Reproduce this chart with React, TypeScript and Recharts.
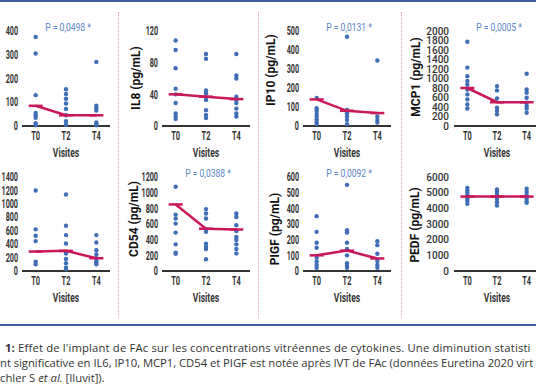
import React from 'react';
import { ScatterChart, Scatter, XAxis, YAxis } from 'recharts';

// visites
const VISITS = ['T0', 'T2', 'T4'];

// IL6 (titre coupé à gauche)
const IL6_T0 = [375, 305, 130, 55, 45, 35, 12, 3];
const IL6_T2 = [155, 135, 115, 95, 72, 45, 20, 5];
const IL6_T4 = [270, 85, 75, 65, 15, 8, 3];
const IL6_MED = [85, 45, 45];

// IL8
const IL8_T0 = [108, 96, 73, 47, 40, 29, 16, 12, 9];
const IL8_T2 = [91, 85, 45, 41, 36, 33, 20, 14, 10];
const IL8_T4 = [91, 64, 60, 37, 33, 29, 22, 16, 12];
const IL8_MED = [40, 37, 34];

// IP10
const IP10_T0 = [147, 94, 80, 64, 50, 35, 21, 10];
const IP10_T2 = [470, 85, 67, 50, 32, 10];
const IP10_T4 = [345, 50, 32, 18];
const IP10_MED = [140, 80, 68];

// MCP1
const MCP1_T0 = [1775, 1230, 1050, 950, 870, 770, 665, 560, 455, 370];
const MCP1_T2 = [840, 750, 580, 385, 315, 245];
const MCP1_T4 = [1100, 770, 700, 595, 490, 420, 370, 280];
const MCP1_MED = [800, 500, 500];

// 2e ligne, 1er panneau (titre coupé)
const VEGF_T0 = [1200, 620, 525, 445, 140, 100];
const VEGF_T2 = [1140, 675, 535, 410, 260, 180, 115, 50, 30];
const VEGF_T4 = [535, 425, 310, 245, 190, 150, 130, 100];
const VEGF_MED = [290, 300, 190];

// CD54
const CD54_T0 = [1075, 720, 670, 605, 490, 340, 235, 220];
const CD54_T2 = [790, 735, 670, 535, 500, 350, 310, 280, 150];
const CD54_T4 = [735, 690, 585, 510, 435, 395, 340, 280, 225];
const CD54_MED = [850, 540, 530];

// PIGF
const PIGF_T0 = [350, 250, 180, 148, 85, 60, 38, 20];
const PIGF_T2 = [550, 260, 245, 180, 140, 100, 50, 34, 20];
const PIGF_T4 = [190, 165, 110, 64, 38, 20];
const PIGF_MED = [100, 130, 80];

// PEDF
const PEDF_T0 = [5300, 5140, 4990, 4860, 4650, 4500, 4290];
const PEDF_T2 = [5200, 5080, 4930, 4780, 4600, 4390, 4180];
const PEDF_T4 = [5250, 5040, 4860, 4650, 4440, 4350];
const PEDF_MED = [4750, 4750, 4750];

const BLUE = '#3f6db6';
const RED = '#c8195b';
const PBLUE = '#5a86c8';
const FONT = "Roboto,'Noto Sans',sans-serif";

const COL_LEFT = [22, 162, 303, 454];
const COL_W = [88, 88, 88, 86];
const ROW_TOP = [31, 177];
const ROW_H = [95, 94];
const LABEL_X = [[0, 136, 271, 416], [0, 134, 275, 415]];
const LABEL_Y = [[78, 78, 70, 77], [224, 219, 229, 225]];
const YW = 32;
const MT = 10;

const panels = [
  { label: '', t0: IL6_T0, t2: IL6_T2, t4: IL6_T4, med: IL6_MED, max: 400, step: 100, p: 'P = 0,0498 *', row: 0, col: 0, wide: false },
  { label: 'IL8 (pg/mL)', t0: IL8_T0, t2: IL8_T2, t4: IL8_T4, med: IL8_MED, max: 120, step: 40, p: '', row: 0, col: 1, wide: false },
  { label: 'IP10 (pg/mL)', t0: IP10_T0, t2: IP10_T2, t4: IP10_T4, med: IP10_MED, max: 500, step: 100, p: 'P = 0,0131 *', row: 0, col: 2, wide: false },
  { label: 'MCP1 (pg/mL)', t0: MCP1_T0, t2: MCP1_T2, t4: MCP1_T4, med: MCP1_MED, max: 2000, step: 200, p: 'P = 0,0005 *', row: 0, col: 3, wide: true },
  { label: '', t0: VEGF_T0, t2: VEGF_T2, t4: VEGF_T4, med: VEGF_MED, max: 1400, step: 200, p: '', row: 1, col: 0, wide: false },
  { label: 'CD54 (pg/mL)', t0: CD54_T0, t2: CD54_T2, t4: CD54_T4, med: CD54_MED, max: 1200, step: 200, p: 'P = 0,0388 *', row: 1, col: 1, wide: false },
  { label: 'PIGF (pg/mL)', t0: PIGF_T0, t2: PIGF_T2, t4: PIGF_T4, med: PIGF_MED, max: 600, step: 100, p: 'P = 0,0092 *', row: 1, col: 2, wide: false },
  { label: 'PEDF (pg/mL)', t0: PEDF_T0, t2: PEDF_T2, t4: PEDF_T4, med: PEDF_MED, max: 6000, step: 1000, p: '', row: 1, col: 3, wide: true },
];

const Dot = (props: any) => <circle cx={props.cx} cy={props.cy} r={2.2} fill={BLUE} />;
const Cap = (props: any) => (
  <line x1={props.cx - 7} x2={props.cx + 7} y1={props.cy} y2={props.cy} stroke={RED} strokeWidth={2.5} />
);

// police étroite type DIN : on resserre le texte horizontalement
const yTick = (wide: boolean) => (props: any) => (
  <text
    transform={`translate(${props.x},${props.y}) scale(${wide ? 1 : 0.6},1)`}
    textAnchor="end"
    dy="0.35em"
    fontSize={wide ? 10 : 12}
    fontFamily={FONT}
    fontWeight={wide ? 500 : 700}
    fill="#333"
  >
    {props.payload.value}
  </text>
);

const xTick = (props: any) => (
  <text
    transform={`translate(${props.x},${props.y}) scale(0.62,1)`}
    textAnchor="middle"
    dy="0.71em"
    fontSize={12}
    fontFamily={FONT}
    fontWeight={700}
    fill="#333"
  >
    {VISITS[props.payload.value]}
  </text>
);

function Panel({ cfg }: { cfg: any }) {
  const left = COL_LEFT[cfg.col];
  const w = COL_W[cfg.col];
  const top = ROW_TOP[cfg.row];
  const h = ROW_H[cfg.row];
  const pts = [
    ...cfg.t0.map((y: number) => ({ x: 0, y })),
    ...cfg.t2.map((y: number) => ({ x: 1, y })),
    ...cfg.t4.map((y: number) => ({ x: 2, y })),
  ];
  const meds = cfg.med.map((y: number, i: number) => ({ x: i, y }));
  const ticks: number[] = [];
  for (let v = 0; v <= cfg.max; v += cfg.step) ticks.push(v);
  const mid = left + w / 2;

  return (
    <>
      <div style={{ position: 'absolute', left: left - YW, top: top - MT }}>
        <ScatterChart width={w + YW} height={h + MT + 30} margin={{ top: MT, right: 0, bottom: 0, left: 0 }}>
          <XAxis
            type="number"
            dataKey="x"
            domain={[-0.45, 2.45]}
            ticks={[0, 1, 2]}
            height={30}
            tickLine={false}
            tickSize={0}
            tickMargin={5}
            axisLine={{ stroke: '#333', strokeWidth: 2 }}
            tick={xTick}
          />
          <YAxis
            type="number"
            dataKey="y"
            domain={[0, cfg.max]}
            ticks={ticks}
            interval={0}
            width={YW}
            tickLine={false}
            tickSize={0}
            tickMargin={cfg.wide ? 5 : 4}
            axisLine={false}
            tick={yTick(cfg.wide)}
          />
          <Scatter data={pts} shape={Dot} isAnimationActive={false} />
          <Scatter data={meds} shape={Cap} line={{ stroke: RED, strokeWidth: 2.5 }} isAnimationActive={false} />
        </ScatterChart>
      </div>
      {cfg.label && (
        <div
          style={{
            position: 'absolute',
            left: LABEL_X[cfg.row][cfg.col] - 60,
            top: LABEL_Y[cfg.row][cfg.col] - 8,
            width: 120,
            height: 16,
            lineHeight: '16px',
            textAlign: 'center',
            transform: 'rotate(-90deg)',
            fontFamily: FONT,
            fontWeight: 700,
            fontSize: 12,
            color: '#111',
            whiteSpace: 'nowrap',
          }}
        >
          {cfg.label}
        </div>
      )}
      {cfg.p && (
        <div
          style={{
            position: 'absolute',
            left: mid - 40,
            top: top - 11,
            width: 84,
            textAlign: 'center',
            fontFamily: FONT,
            fontSize: 11.5,
            lineHeight: '14px',
            color: PBLUE,
            whiteSpace: 'nowrap',
            transform: 'scaleX(0.74)',
          }}
        >
          {cfg.p}
        </div>
      )}
      <div
        style={{
          position: 'absolute',
          left: mid - 30,
          top: top + h + 20,
          width: 60,
          textAlign: 'center',
          fontFamily: FONT,
          fontWeight: 700,
          fontSize: 12.5,
          lineHeight: '14px',
          color: '#333',
          transform: 'scaleX(0.68)',
        }}
      >
        Visites
      </div>
    </>
  );
}

const SEP_X = [118, 258, 401];

export default function App() {
  const cap = { position: 'absolute' as const, whiteSpace: 'nowrap' as const, fontFamily: "'Open Sans','Noto Sans',sans-serif", fontSize: 11.3, lineHeight: '15px', color: '#333' };
  return (
    <div style={{ position: 'absolute', left: 0, top: 0, width: 536, height: 386, overflow: 'hidden', background: '#fff' }}>
      <div style={{ position: 'absolute', left: 0, top: 0, width: 536, height: 2, background: '#3e5c9e' }} />
      {SEP_X.map((x) => (
        <div key={x} style={{ position: 'absolute', left: x, top: 12, height: 306, borderLeft: '1px dotted #e7a3b5' }} />
      ))}
      {panels.map((p, i) => (
        <Panel key={i} cfg={p} />
      ))}
      <div style={{ position: 'absolute', left: 0, top: 324, width: 536, height: 2, background: '#3e5c9e' }} />
      <div style={{ ...cap, left: 5, top: 340, letterSpacing: 0.15 }}>
        <b>1:</b> Effet de l'implant de FAc sur les concentrations vitréennes de cytokines. Une diminution statisti
      </div>
      <div style={{ ...cap, left: 0, top: 355, letterSpacing: -0.05 }}>
        nt significative en IL6, IP10, MCP1, CD54 et PIGF est notée après IVT de FAc (données Euretina 2020 virt
      </div>
      <div style={{ ...cap, left: 0, top: 370 }}>
        chler S <i>et al.</i> [Iluvit]).
      </div>
    </div>
  );
}
